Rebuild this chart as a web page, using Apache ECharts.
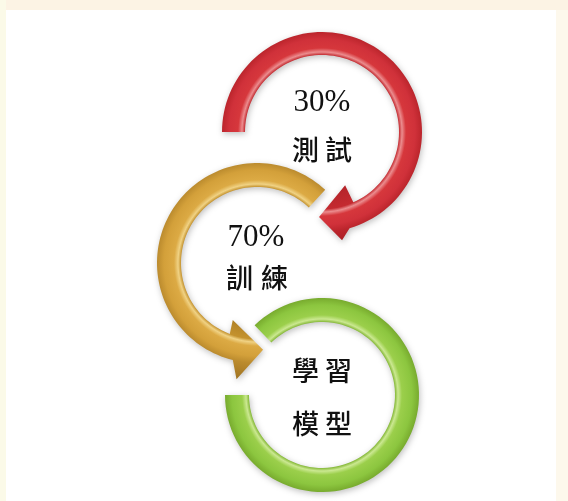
<!DOCTYPE html>
<html>
<head>
<meta charset="utf-8">
<script src="https://cdn.jsdelivr.net/npm/echarts@6/dist/echarts.min.js"></script>
<style>
html,body{margin:0;padding:0;background:#fdf7ea;}
#main{width:568px;height:501px;}
</style>
</head>
<body>
<div id="main"></div>
<script>
// ---- data ----
const stageNames = ['測試', '訓練', '學習模型'];
const stageShares = ['30%', '70%', null];
const stageKeys = ['test', 'train', 'model'];

// ---- layout (not data) ----
const layout = {
  test:  { c: [322, 132], ro: 100, ri: 77, a0: 180, outEnd: -74, inEnd: -66,
           arrow: { outer: [-79.5, 110], inner: [-66.5, 58], tip: [-92, 85] },
           pct: [322, 103], word: [322, 150], dx: 16.5,
           colors: ['#b3242a', '#c42a30', '#eb8c8e', '#d6373c', '#d0313a', '#bb252c', '#9c1a1f'] },
  train: { c: [257, 263], ro: 100, ri: 76, a0: 47, outEnd: 256, inEnd: 249,
           arrow: { outer: [260, 118], inner: [247, 62], tip: [274, 87] },
           pct: [256, 238], word: [257, 278], dx: 17.5,
           colors: ['#a87a22', '#c4922e', '#f0d284', '#dcaa44', '#d3a03a', '#bb8b2e', '#9c7020'] },
  model: { c: [322, 395], ro: 97, ri: 73, a0: 180, outEnd: 494, inEnd: 494,
           arrow: null,
           word: [322, 371], word2: [322, 424], dx: 16.5,
           colors: ['#6f9e22', '#84b836', '#cbe891', '#9bcf4b', '#8cc63f', '#78ab2e', '#5f8c1c'] }
};

function pt(c, r, a) {
  const t = a * Math.PI / 180;
  return [c[0] + r * Math.cos(t), c[1] - r * Math.sin(t)];
}
function arc(c, r, a0, a1, n) {
  const out = [];
  for (let i = 0; i <= n; i++) out.push(pt(c, r, a0 + (a1 - a0) * i / n));
  return out;
}

const chart = echarts.init(document.getElementById('main'));

function renderItem(params, api) {
  const idx = api.value(0);
  const key = stageKeys[idx];
  const L = layout[key];
  const c = api.coord(L.c);
  const s = api.size([1, 1])[0];
  const ro = L.ro * s, ri = L.ri * s;
  let pts = arc(c, ro, L.a0, L.outEnd, 90);
  if (L.arrow) {
    pts.push(pt(c, L.arrow.outer[1] * s, L.arrow.outer[0]));
    pts.push(pt(c, L.arrow.tip[1] * s, L.arrow.tip[0]));
    pts.push(pt(c, L.arrow.inner[1] * s, L.arrow.inner[0]));
  }
  pts = pts.concat(arc(c, ri, L.inEnd, L.a0, 90));
  const R = (L.ro + 25) * s;
  const col = L.colors;
  const stops = [
    { offset: (ri - 20) / R, color: col[0] },
    { offset: ri / R, color: col[1] },
    { offset: (ri + 3) / R, color: col[2] },
    { offset: (ri + 7) / R, color: col[3] },
    { offset: (ro - 7) / R, color: col[4] },
    { offset: ro / R, color: col[5] },
    { offset: (ro + 20) / R, color: col[6] }
  ];
  const children = [{
    type: 'polygon',
    shape: { points: pts },
    style: {
      fill: { type: 'radial', x: c[0], y: c[1], r: R, global: true, colorStops: stops },
      shadowBlur: 6, shadowColor: 'rgba(0,0,0,0.25)', shadowOffsetX: 1, shadowOffsetY: 2
    }
  }];
  const name = stageNames[idx];
  const cjk = { fontFamily: '"Noto Sans CJK TC"', fontSize: 27, fontWeight: 500, fill: '#111111', align: 'center', verticalAlign: 'middle' };
  const share = stageShares[idx];
  if (share) {
    const p = api.coord(L.pct);
    children.push({ type: 'text', x: p[0], y: p[1], style: { text: share, fontFamily: '"Liberation Serif", serif', fontSize: 31, fill: '#111111', align: 'center', verticalAlign: 'middle' } });
    const w = api.coord(L.word);
    children.push({ type: 'text', x: w[0] - L.dx, y: w[1], style: Object.assign({ text: name[0] }, cjk) });
    children.push({ type: 'text', x: w[0] + L.dx, y: w[1], style: Object.assign({ text: name[1] }, cjk) });
  } else {
    const w = api.coord(L.word), w2 = api.coord(L.word2);
    children.push({ type: 'text', x: w[0] - L.dx, y: w[1], style: Object.assign({ text: name[0] }, cjk) });
    children.push({ type: 'text', x: w[0] + L.dx, y: w[1], style: Object.assign({ text: name[1] }, cjk) });
    children.push({ type: 'text', x: w2[0] - L.dx, y: w2[1], style: Object.assign({ text: name[2] }, cjk) });
    children.push({ type: 'text', x: w2[0] + L.dx, y: w2[1], style: Object.assign({ text: name[3] }, cjk) });
  }
  return { type: 'group', children: children };
}

chart.setOption({
  animation: false,
  backgroundColor: 'transparent',
  graphic: [
    { type: 'rect', z: -10, shape: { x: 0, y: 0, width: 568, height: 10 }, style: { fill: '#fcf3e4' } },
    { type: 'rect', z: -10, shape: { x: 0, y: 0, width: 6, height: 501 }, style: { fill: '#fbfae8' } },
    { type: 'rect', z: -10, shape: { x: 6, y: 10, width: 550, height: 491 }, style: { fill: '#ffffff' } },
    { type: 'rect', z: -10, shape: { x: 556, y: 10, width: 12, height: 491 }, style: { fill: '#fdf8ec' } }
  ],
  grid: { left: 0, right: 0, top: 0, bottom: 0 },
  xAxis: { type: 'value', min: 0, max: 568, show: false },
  yAxis: { type: 'value', min: 0, max: 501, inverse: true, show: false },
  series: [{
    type: 'custom',
    renderItem: renderItem,
    data: [[2], [1], [0]],
    clip: false
  }]
});
</script>
</body>
</html>
